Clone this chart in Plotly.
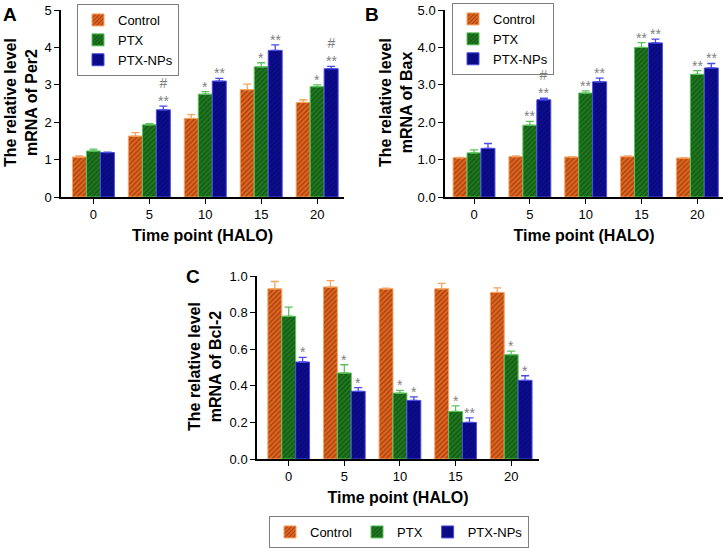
import plotly.graph_objects as go

times = ["0", "5", "10", "15", "20"]
groups = ["Control", "PTX", "PTX-NPs"]

# Panel A: Per2
per2_control = [1.07, 1.63, 2.10, 2.87, 2.53]
per2_control_err = [0.03, 0.09, 0.10, 0.15, 0.07]
per2_ptx = [1.23, 1.93, 2.75, 3.48, 2.95]
per2_ptx_err = [0.05, 0.03, 0.07, 0.11, 0.05]
per2_nps = [1.19, 2.33, 3.10, 3.92, 3.43]
per2_nps_err = [0.01, 0.10, 0.07, 0.15, 0.06]
per2_ptx_sig = ["", "", "*", "*", "*"]
per2_nps_sig = ["", "#<br>**", "**", "**", "#<br>**"]

# Panel B: Bax
bax_control = [1.05, 1.08, 1.07, 1.08, 1.04]
bax_control_err = [0.01, 0.02, 0.01, 0.02, 0.01]
bax_ptx = [1.18, 1.92, 2.78, 4.00, 3.28]
bax_ptx_err = [0.08, 0.10, 0.06, 0.13, 0.10]
bax_nps = [1.30, 2.60, 3.08, 4.12, 3.45]
bax_nps_err = [0.13, 0.04, 0.10, 0.10, 0.12]
bax_ptx_sig = ["", "**", "**", "**", "**"]
bax_nps_sig = ["", "#<br>**", "**", "**", "**"]

# Panel C: Bcl-2
bcl_control = [0.93, 0.94, 0.93, 0.93, 0.91]
bcl_control_err = [0.04, 0.035, 0.003, 0.03, 0.025]
bcl_ptx = [0.78, 0.47, 0.36, 0.26, 0.57]
bcl_ptx_err = [0.05, 0.045, 0.015, 0.03, 0.02]
bcl_nps = [0.53, 0.37, 0.32, 0.20, 0.43]
bcl_nps_err = [0.025, 0.02, 0.02, 0.025, 0.025]
bcl_ptx_sig = ["", "*", "*", "*", "*"]
bcl_nps_sig = ["*", "*", "*", "**", "*"]

y_titles = ["The relative level<br>mRNA of Per2", "The relative level<br>mRNA of Bax",
            "The relative level<br>mRNA of Bcl-2"]
x_title = "Time point (HALO)"

FONT = "Liberation Sans, Arial, sans-serif"
fill = {"Control": "#E8661F", "PTX": "#1F7A1F", "PTX-NPs": "#0C0C96"}
edge = {"Control": "#F6A461", "PTX": "#5CC35C", "PTX-NPs": "#4B4BE6"}
hatch = {"Control": "#4A1E05", "PTX": "#0A300A", "PTX-NPs": "#050545"}

fig = go.Figure()
xpos = list(range(len(times)))


def add_panel(vals, errs, xa, ya, legend):
    for g, v, e in zip(groups, vals, errs):
        fig.add_trace(go.Bar(
            x=xpos, y=v, name=g, xaxis=xa, yaxis=ya, legend=legend,
            marker=dict(color=fill[g], line=dict(color=edge[g], width=1),
                        pattern=dict(shape="/", fgcolor=hatch[g], size=3.5, solidity=0.4)),
            error_y=dict(type="data", symmetric=False, array=e, arrayminus=[0] * len(e),
                         color=edge[g], thickness=1.3, width=4),
            offsetgroup=g,
        ))


add_panel([per2_control, per2_ptx, per2_nps], [per2_control_err, per2_ptx_err, per2_nps_err], "x", "y", "legend")
add_panel([bax_control, bax_ptx, bax_nps], [bax_control_err, bax_ptx_err, bax_nps_err], "x2", "y2", "legend2")
add_panel([bcl_control, bcl_ptx, bcl_nps], [bcl_control_err, bcl_ptx_err, bcl_nps_err], "x3", "y3", "legend3")

annotations = []
bw = 0.25


def add_sig(vals, errs, sigs, offset, xr, yr):
    for i, (v, e, s) in enumerate(zip(vals, errs, sigs)):
        if s:
            annotations.append(dict(x=i + offset, y=v + e, xref=xr, yref=yr, text=s, showarrow=False,
                                    yanchor="bottom", yshift=-4, borderpad=0,
                                    font=dict(family=FONT, size=14, color="#7f7f7f")))


add_sig(per2_ptx, per2_ptx_err, per2_ptx_sig, 0, "x", "y")
add_sig(per2_nps, per2_nps_err, per2_nps_sig, bw, "x", "y")
add_sig(bax_ptx, bax_ptx_err, bax_ptx_sig, 0, "x2", "y2")
add_sig(bax_nps, bax_nps_err, bax_nps_sig, bw, "x2", "y2")
add_sig(bcl_ptx, bcl_ptx_err, bcl_ptx_sig, 0, "x3", "y3")
add_sig(bcl_nps, bcl_nps_err, bcl_nps_sig, bw, "x3", "y3")

W, H = 724, 548

for letter, x, y in [("A", 1, 2), ("B", 363, 2), ("C", 184, 264)]:
    annotations.append(dict(x=x / W, y=1 - y / H, xref="paper", yref="paper", text="<b>%s</b>" % letter,
                            showarrow=False, xanchor="left", yanchor="top",
                            font=dict(family=FONT, size=19, color="black")))

# y-axis titles (two lines, rotated)
for t, cx, cy in zip(y_titles, [21, 396, 205], [103, 103, 367]):
    annotations.append(dict(x=cx / W, y=1 - cy / H, xref="paper", yref="paper", text="<b>%s</b>" % t,
                            showarrow=False, textangle=-90, xanchor="center", yanchor="middle",
                            font=dict(family=FONT, size=16, color="black")))


def xd(a, b):
    return [a / W, b / W]


def yd(top, bottom):
    return [1 - bottom / H, 1 - top / H]


common_x = dict(tickmode="array", tickvals=xpos, ticktext=times, showline=True, linecolor="black",
                linewidth=1.5, ticks="outside", ticklen=5, tickcolor="black", showgrid=False, zeroline=False,
                automargin=False,
                tickfont=dict(family=FONT, size=13, color="black"),
                title=dict(text="<b>%s</b>" % x_title, font=dict(family=FONT, size=16, color="black"),
                           standoff=8))
common_y = dict(showline=True, linecolor="black", linewidth=1.5, ticks="outside", ticklen=5,
                tickcolor="black", showgrid=False, zeroline=False, automargin=False,
                tickfont=dict(family=FONT, size=13, color="black"))

legend_common = dict(bordercolor="#7f7f7f", borderwidth=1, bgcolor="white",
                     font=dict(family=FONT, size=13, color="black"), tracegroupgap=0,
                     xanchor="left", yanchor="top", itemwidth=30)

fig.update_layout(
    width=W, height=H, margin=dict(l=0, r=0, t=0, b=0, autoexpand=False),
    paper_bgcolor="white", plot_bgcolor="white",
    barmode="group", bargap=0.25, bargroupgap=0,
    font=dict(family=FONT, color="black"),
    xaxis=dict(domain=xd(61, 344), range=[-0.58, 4.48], anchor="y", **common_x),
    yaxis=dict(domain=yd(10, 197), range=[0, 5], tickvals=[0, 1, 2, 3, 4, 5], anchor="x", **common_y),
    xaxis2=dict(domain=xd(445, 723), range=[-0.52, 4.46], anchor="y2", **common_x),
    yaxis2=dict(domain=yd(10, 197), range=[0, 5], tickvals=[0, 1, 2, 3, 4, 5], tickformat=".1f",
                anchor="x2", **common_y),
    xaxis3=dict(domain=xd(257, 539), range=[-0.57, 4.5], anchor="y3", **common_x),
    yaxis3=dict(domain=yd(276, 459), range=[0, 1], tickvals=[0, 0.2, 0.4, 0.6, 0.8, 1.0],
                tickformat=".1f", anchor="x3", **common_y),
    legend=dict(x=77 / W, y=1 - 4 / H, orientation="v", **legend_common),
    legend2=dict(x=452 / W, y=1 - 3 / H, orientation="v", **legend_common),
    legend3=dict(x=399 / W, y=0, orientation="h",
                 **{**legend_common, "xanchor": "center", "yanchor": "bottom"}),
    annotations=annotations,
    showlegend=True,
)

fig.write_html("out.html", config={"displayModeBar": False},
               post_script="document.body.style.margin='0';")
